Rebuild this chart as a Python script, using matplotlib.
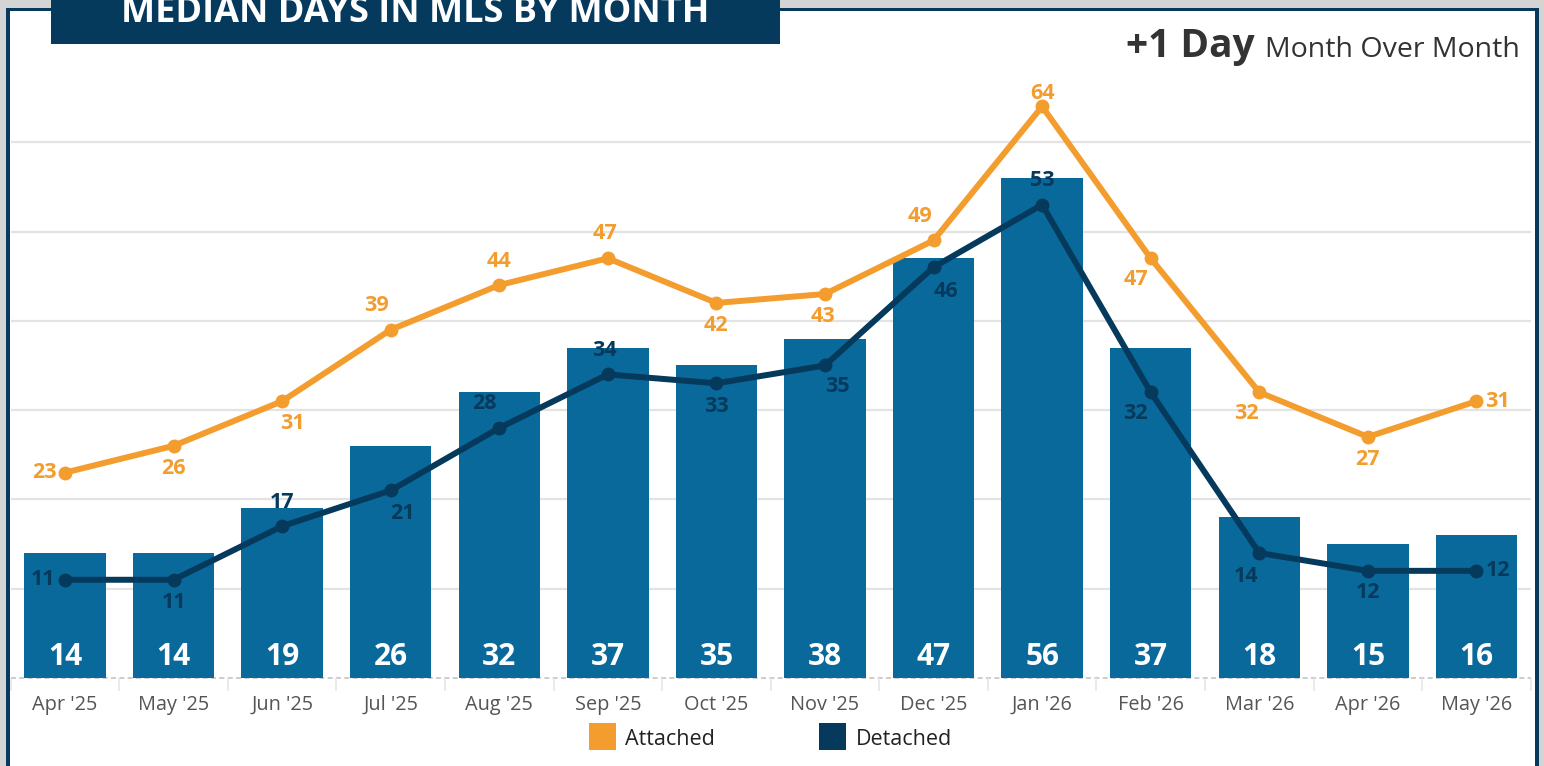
import numpy as np
import matplotlib.pyplot as plt
from matplotlib.patches import Rectangle

plt.rcParams["font.family"] = ["Open Sans", "DejaVu Sans"]

months = ["Apr '25", "May '25", "Jun '25", "Jul '25", "Aug '25", "Sep '25", "Oct '25",
          "Nov '25", "Dec '25", "Jan '26", "Feb '26", "Mar '26", "Apr '26", "May '26"]
total = [14, 14, 19, 26, 32, 37, 35, 38, 47, 56, 37, 18, 15, 16]
attached = [23, 26, 31, 39, 44, 47, 42, 43, 49, 64, 47, 32, 27, 31]
detached = [11, 11, 17, 21, 28, 34, 33, 35, 46, 53, 32, 14, 12, 12]

# label offsets in pixels (dx, dy), dy positive = up
att_off = [(-21, 0), (0, -23), (10, -22), (-14, 24), (0, 24), (-3, 25), (0, -23),
           (-2, -22), (-14, 24), (0, 13), (-15, -21), (-13, -21), (0, -23), (21, 0)]
det_off = [(-22, 0), (0, -23), (0, 24), (12, -23), (-15, 24), (-3, 24), (0, -23),
           (12, -21), (12, -24), (0, 24), (-15, -21), (-13, -24), (0, -22), (22, 0)]

BAR = "#0a699b"
NAVY = "#053a5c"
ORANGE = "#f49d2f"
GRID = "#e3e3e3"

W, H = 1544, 766
fig = plt.figure(figsize=(W / 100, H / 100), dpi=100)
fig.patch.set_facecolor("white")

# outer frame
fig.add_artist(Rectangle((0, (H - 8) / H), 1, 8 / H, transform=fig.transFigure,
                         facecolor="#d4d4d4", edgecolor="none"))
fig.add_artist(Rectangle((0, 0), 6 / W, 1, transform=fig.transFigure,
                         facecolor="#d4d4d4", edgecolor="none"))
fig.add_artist(Rectangle((6 / W, 0), 4 / W, (H - 8) / H, transform=fig.transFigure,
                         facecolor=NAVY, edgecolor="none"))
fig.add_artist(Rectangle((6 / W, (H - 11) / H), (1540 - 6) / W, 3 / H,
                         transform=fig.transFigure, facecolor=NAVY, edgecolor="none"))
fig.add_artist(Rectangle((1535 / W, 0), 4 / W, (H - 8) / H, transform=fig.transFigure,
                         facecolor=NAVY, edgecolor="none"))
fig.add_artist(Rectangle((1539 / W, 0), 5 / W, 1, transform=fig.transFigure,
                         facecolor="#d4d4d4", edgecolor="none"))

# title box (text runs off the top edge, as in the source)
fig.add_artist(Rectangle((51 / W, (H - 44) / H), (780 - 51) / W, 44 / H,
                         transform=fig.transFigure, facecolor=NAVY, edgecolor="none"))
fig.text(415 / W, (H - 22) / H, "MEDIAN DAYS IN MLS BY MONTH", color="white",
         fontsize=26, fontweight="bold", ha="center", va="baseline")

# month-over-month note
t2 = fig.text(1520 / W, (H - 57) / H, "Month Over Month", color="#333333",
              fontsize=20.5, ha="right", va="baseline")
fig.canvas.draw()
bb = t2.get_window_extent()
fig.text((bb.x0 - 11) / W, (H - 57) / H, "+1 Day", color="#333333",
         fontsize=28, fontweight="bold", ha="right", va="baseline")

# axes
ppu = 8.93
ymax = 66
ax_h = ymax * ppu
ax = fig.add_axes([10.7 / W, 88 / H, 1520 / W, ax_h / H])
x = np.arange(len(months))
ax.set_xlim(-0.5, len(months) - 0.5)
ax.set_ylim(0, ymax)

for g in range(10, 70, 10):
    ax.axhline(g, color=GRID, lw=1.6, zorder=0)
ax.axhline(0, color="#c4c4c4", lw=1.2, linestyle=(0, (3, 2)), zorder=1, clip_on=False)

ax.bar(x, total, width=0.75, color=BAR, zorder=2)
for xi, v in zip(x, total):
    ax.annotate(str(v), (xi, 0), xytext=(0, 21 * 0.72), textcoords="offset points",
                ha="center", va="center", color="white", fontsize=21.5,
                fontweight="bold", zorder=5)

ax.plot(x, attached, color=ORANGE, lw=4.3, marker="o", markersize=9, zorder=3,
        solid_capstyle="round")
ax.plot(x, detached, color=NAVY, lw=4.3, marker="o", markersize=9, zorder=4,
        solid_capstyle="round")

for vals, offs, col in [(attached, att_off, ORANGE), (detached, det_off, NAVY)]:
    for xi, v, (dx, dy) in zip(x, vals, offs):
        ax.annotate(str(v), (xi, v), xytext=(dx * 0.72, dy * 0.72),
                    textcoords="offset points", ha="center", va="center",
                    color=col, fontsize=15.5, fontweight="bold", zorder=6)

for s in ax.spines.values():
    s.set_visible(False)
ax.set_yticks([])
ax.set_xticks(x)
ax.set_xticklabels(months, fontsize=14.3, color="#555555")
ax.tick_params(axis="x", which="major", length=0, pad=12)
ax.set_xticks(np.arange(-0.5, len(months), 1), minor=True)
ax.tick_params(axis="x", which="minor", length=9, color="#e6e6e6", width=1.2)
ax.set_facecolor("none")

# legend
fig.add_artist(Rectangle((589 / W, (H - 750) / H), 27 / W, 27 / H,
                         transform=fig.transFigure, facecolor=ORANGE, edgecolor="none"))
fig.text(625 / W, (H - 745) / H, "Attached", fontsize=15.5, color="#222222",
         ha="left", va="baseline")
fig.add_artist(Rectangle((819 / W, (H - 750) / H), 27 / W, 27 / H,
                         transform=fig.transFigure, facecolor=NAVY, edgecolor="none"))
fig.text(856 / W, (H - 745) / H, "Detached", fontsize=15.5, color="#222222",
         ha="left", va="baseline")

fig.savefig("out.png", dpi=100, facecolor="white")
